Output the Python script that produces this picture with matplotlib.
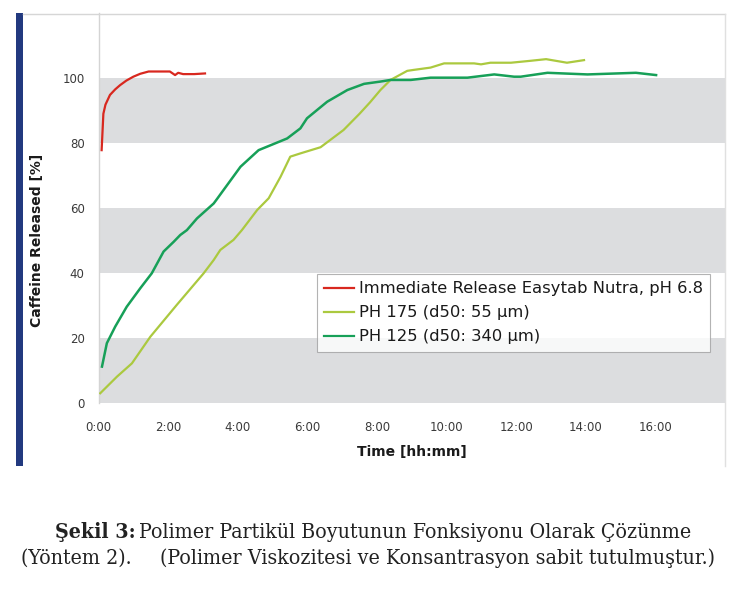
import matplotlib
matplotlib.use("Agg")
import matplotlib.pyplot as plt
from matplotlib.lines import Line2D
from matplotlib.patches import Rectangle

# ---------------- data ----------------
series_names = ["Immediate Release Easytab Nutra, pH 6.8",
                "PH 175 (d50: 55 µm)",
                "PH 125 (d50: 340 µm)"]

ir_time = [0.09, 0.14, 0.20, 0.33, 0.48, 0.62, 0.80, 1.00, 1.20, 1.44, 1.75, 2.05,
           2.20, 2.29, 2.43, 2.75, 3.06]
ir_release = [77.8, 89.0, 91.8, 94.8, 96.5, 97.8, 99.2, 100.4, 101.3, 102.0, 102.0, 102.0,
              100.9, 101.6, 101.2, 101.2, 101.4]

ph175_time = [0.05, 0.53, 0.96, 1.49, 2.25, 3.02, 3.31, 3.50, 3.88, 4.12, 4.56, 4.89,
              5.23, 5.51, 5.80, 6.38, 7.04, 7.50, 7.80, 8.10, 8.39, 8.87, 9.06, 9.54,
              9.93, 10.79, 10.99, 11.26, 11.85, 12.42, 12.86, 13.46, 13.95]
ph175_release = [3.0, 8.1, 12.2, 20.4, 30.2, 39.9, 44.0, 47.1, 50.2, 53.2, 59.4, 63.0,
                 69.6, 75.8, 76.8, 78.7, 84.0, 89.0, 92.5, 96.3, 99.4, 102.2, 102.5, 103.2,
                 104.5, 104.5, 104.2, 104.7, 104.7, 105.3, 105.8, 104.7, 105.5]

ph125_time = [0.10, 0.24, 0.48, 0.81, 1.20, 1.53, 1.87, 2.16, 2.35, 2.54, 2.83, 3.31,
              3.40, 3.59, 4.08, 4.60, 5.42, 5.80, 5.99, 6.57, 7.15, 7.63, 8.10, 8.39,
              8.97, 9.54, 10.60, 11.37, 11.94, 12.13, 12.90, 14.05, 15.44, 16.02]
ph125_release = [11.2, 18.4, 23.5, 29.6, 35.3, 39.9, 46.6, 49.6, 51.7, 53.2, 56.8, 61.4,
                 62.7, 65.5, 72.7, 77.8, 81.4, 84.5, 87.6, 92.7, 96.3, 98.2, 98.9, 99.4,
                 99.4, 100.1, 100.1, 101.1, 100.4, 100.4, 101.6, 101.1, 101.6, 100.9]

x_ticks = [0, 2, 4, 6, 8, 10, 12, 14, 16]
x_tick_labels = ["0:00", "2:00", "4:00", "6:00", "8:00", "10:00", "12:00", "14:00", "16:00"]
y_ticks = [0, 20, 40, 60, 80, 100]

caption_bold = "Şekil 3:"
caption_line1 = "Polimer Partikül Boyutunun Fonksiyonu Olarak Çözünme"
caption_line2a = "(Yöntem 2)."
caption_line2b = "(Polimer Viskozitesi ve Konsantrasyon sabit tutulmuştur.)"

# ---------------- figure ----------------
W, H = 745, 592
DPI = 100
fig = plt.figure(figsize=(W / DPI, H / DPI), dpi=DPI)
plt.rcParams['font.family'] = ['DejaVu Sans']

def fx(px):
    return px / W

def fy(py):
    return 1 - py / H

ax_l, ax_r, ax_t, ax_b = 98.5, 725, 13, 403
ax = fig.add_axes([fx(ax_l), fy(ax_b), fx(ax_r - ax_l), (ax_b - ax_t) / H])

c_red = "#d8281f"
c_lime = "#abc93f"
c_green = "#17a058"
band = "#dcdddf"

ax.set_xlim(0, 18)
ax.set_ylim(0, 120)
for lo in (0, 40, 80):
    ax.axhspan(lo, lo + 20, color=band, lw=0, zorder=0)

ax.plot(ir_time, ir_release, color=c_red, lw=1.6, label=series_names[0], zorder=3)
ax.plot(ph175_time, ph175_release, color=c_lime, lw=1.6, label=series_names[1], zorder=3)
ax.plot(ph125_time, ph125_release, color=c_green, lw=1.8, label=series_names[2], zorder=3)

for s in ("top", "right", "bottom"):
    ax.spines[s].set_visible(False)
ax.spines["left"].set_color("#d4d4d4")
ax.spines["left"].set_linewidth(1.0)

ax.set_xticks(x_ticks)
ax.set_xticklabels(x_tick_labels)
ax.set_yticks(y_ticks)
ax.tick_params(axis="both", length=0, labelsize=8.5, labelcolor="#3a3a3a")
ax.tick_params(axis="x", pad=13)
ax.tick_params(axis="y", pad=10)

fig.text(fx(412), fy(452), "Time [hh:mm]", ha="center", va="center",
         fontsize=10, fontweight="bold", color="#1a1a1a")
fig.text(fx(37.5), fy(240), "Caffeine Released [%]", ha="center", va="center",
         rotation=90, fontsize=10, fontweight="bold", color="#1a1a1a")

leg = ax.legend(loc="upper left", bbox_to_anchor=(fx(317), fy(274)),
                bbox_transform=fig.transFigure, fontsize=11.8, frameon=True,
                fancybox=False, borderpad=0.45, labelspacing=0.55,
                handlelength=1.8, handletextpad=0.3, borderaxespad=0)
leg.get_frame().set_edgecolor("#a0a0a0")
leg.get_frame().set_linewidth(0.8)
for line in leg.get_lines():
    line.set_linewidth(1.6)
for t in leg.get_texts():
    t.set_color("#1a1a1a")

# chart frame
fig.add_artist(Rectangle((fx(16), fy(466)), fx(7), (466 - 13) / H,
                         transform=fig.transFigure, color="#22397f", lw=0))
fig.add_artist(Line2D([fx(23), fx(725)], [fy(13.5), fy(13.5)],
                      transform=fig.transFigure, color="#d6d6d6", lw=1.0))
fig.add_artist(Line2D([fx(725), fx(725)], [fy(13.5), fy(466)],
                      transform=fig.transFigure, color="#e0e0e0", lw=1.0))

# caption: one font size fitted to the width of line 1
fig.canvas.draw()
renderer = fig.canvas.get_renderer()
cap_kw = dict(family="DejaVu Serif", fontstretch="condensed", color="#222222", va="center")

def mk(txt, weight="normal", fs=14):
    return fig.text(0, 0, txt, ha="left", fontsize=fs, fontweight=weight, **cap_kw)

def width(t):
    return t.get_window_extent(renderer).width

base = 14.0
tb = mk(caption_bold, "bold", base)
t1 = mk(caption_line1, "normal", base)
sp = mk("a a", "normal", base)
sp_w = width(sp) - width(mk("aa", "normal", base))
total = width(tb) + sp_w * 0.6 + width(t1)
target1 = 640.0
fs = base * target1 / total
for t in fig.texts[-4:]:
    t.remove()

tb = mk(caption_bold, "bold", fs)
t1 = mk(caption_line1, "normal", fs)
fig.canvas.draw()
wb, w1 = width(tb), width(t1)
gap1 = fs / base * sp_w * 0.6
x0 = 373 - (wb + gap1 + w1) / 2
tb.set_position((fx(x0), fy(532)))
t1.set_position((fx(x0 + wb + gap1), fy(532)))

t2a = mk(caption_line2a, "normal", fs)
t2b = mk(caption_line2b, "normal", fs)
fig.canvas.draw()
w2a, w2b = width(t2a), width(t2b)
gap2 = 28
x0 = 368 - (w2a + gap2 + w2b) / 2
t2a.set_position((fx(x0), fy(558)))
t2b.set_position((fx(x0 + w2a + gap2), fy(558)))

fig.savefig("out.png", dpi=DPI)
